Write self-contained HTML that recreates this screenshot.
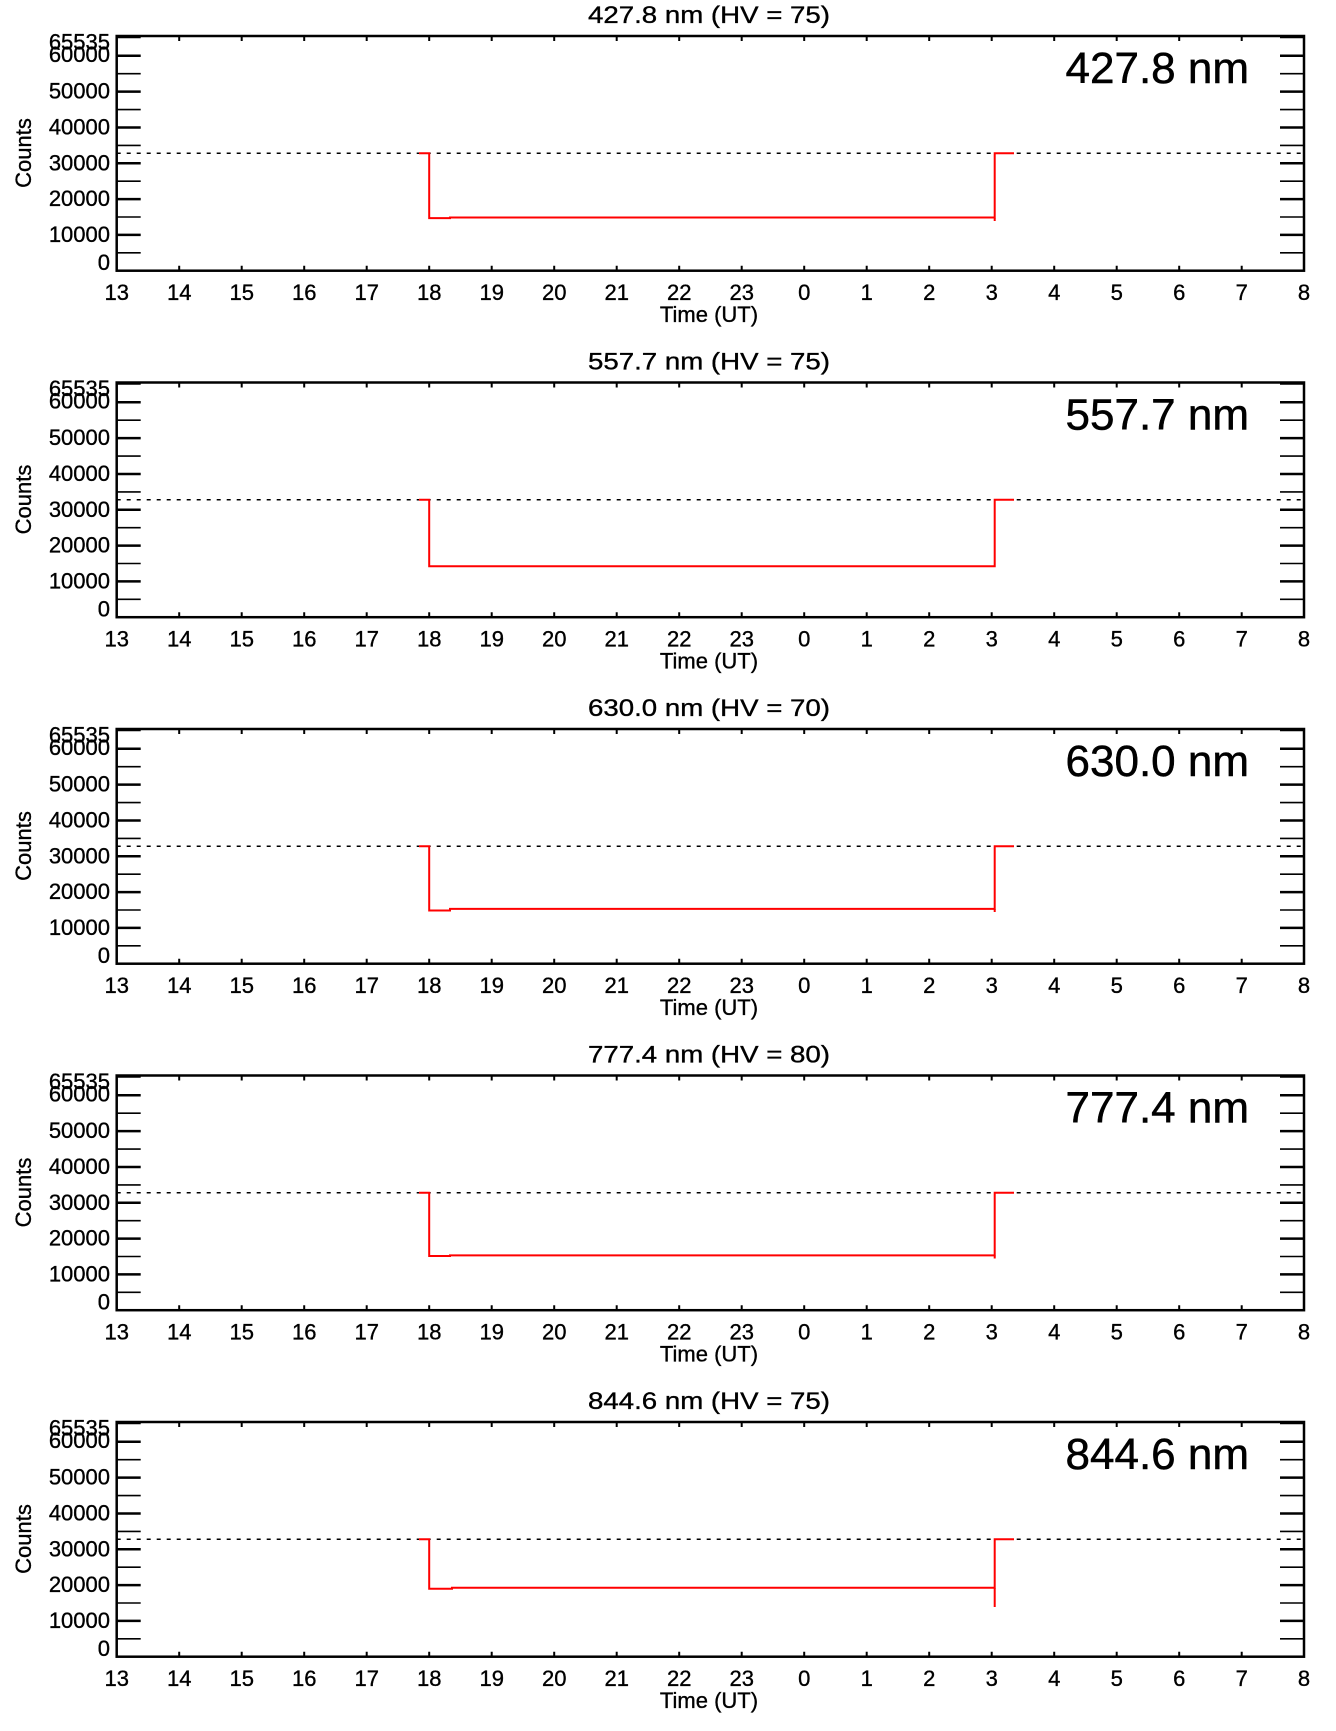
<!DOCTYPE html>
<html><head><meta charset="utf-8"><style>
html,body{margin:0;padding:0;background:#fff;}
svg{display:block;}
text{font-family:"Liberation Sans",Arial,sans-serif;fill:#000;stroke:#000;stroke-width:0.35;}
.t{font-size:22px;text-anchor:middle;}
.ti{font-size:24px;text-anchor:middle;}
.y{font-size:22px;text-anchor:end;}
.big{font-size:44px;text-anchor:end;stroke-width:0.5;}
</style></head><body>
<svg width="1336" height="1731" viewBox="0 0 1336 1731" xmlns="http://www.w3.org/2000/svg">
<defs>
<g id="ax">
<rect x="116.7" y="0" width="1187.3" height="234.7" fill="none" stroke="#000" stroke-width="2.5"/>
<path d="M116.7 216.8h24M116.7 181h24M116.7 145.2h24M116.7 109.4h24M116.7 73.6h24M116.7 37.7h24M1280 216.8h24M1280 181h24M1280 145.2h24M1280 109.4h24M1280 73.6h24M1280 37.7h24" stroke="#000" stroke-width="1.6"/>
<path d="M116.7 198.9h24M116.7 163.1h24M116.7 127.3h24M116.7 91.5h24M116.7 55.6h24M116.7 19.8h24M116.7 1h24M1280 198.9h24M1280 163.1h24M1280 127.3h24M1280 91.5h24M1280 55.6h24M1280 19.8h24M1280 1h24" stroke="#000" stroke-width="2.5"/>
<path d="M179.2 0v5M241.7 0v5M304.2 0v5M366.7 0v5M429.2 0v5M491.7 0v5M554.2 0v5M616.7 0v5M679.2 0v5M741.7 0v5M804.2 0v5M866.7 0v5M929.2 0v5M991.7 0v5M1054.2 0v5M1116.7 0v5M1179.2 0v5M1241.7 0v5M179.2 234.7v-5M241.7 234.7v-5M304.2 234.7v-5M366.7 234.7v-5M429.2 234.7v-5M491.7 234.7v-5M554.2 234.7v-5M616.7 234.7v-5M679.2 234.7v-5M741.7 234.7v-5M804.2 234.7v-5M866.7 234.7v-5M929.2 234.7v-5M991.7 234.7v-5M1054.2 234.7v-5M1116.7 234.7v-5M1179.2 234.7v-5M1241.7 234.7v-5" stroke="#000" stroke-width="2"/>
<line x1="116.7" y1="117.3" x2="1304" y2="117.3" stroke="#000" stroke-width="1.5" stroke-dasharray="4 6"/>
</g>
</defs>

<!-- Panel 1 -->
<g transform="translate(0,36)">
<use href="#ax"/>
<path d="M419 117.3H429.2V182.1H450V181.5H994.7V117.3H1014" fill="none" stroke="#f00" stroke-width="2"/>
<path d="M994.7 182V185" stroke="#f00" stroke-width="2"/>
<text x="709" y="-13" class="ti" textLength="242" lengthAdjust="spacingAndGlyphs">427.8 nm (HV = 75)</text>
<text x="1249" y="47" class="big">427.8 nm</text>
<text transform="translate(31,117) rotate(-90)" style="font-size:22px;text-anchor:middle">Counts</text>
<g class="y"><text x="110" y="13.5">65535</text><text x="110" y="26">60000</text><text x="110" y="62.6">50000</text><text x="110" y="98.5">40000</text><text x="110" y="134.3">30000</text><text x="110" y="170.1">20000</text><text x="110" y="205.9">10000</text><text x="110" y="234">0</text></g>
<g class="t"><text x="116.7" y="264">13</text><text x="179.2" y="264">14</text><text x="241.7" y="264">15</text><text x="304.2" y="264">16</text><text x="366.7" y="264">17</text><text x="429.2" y="264">18</text><text x="491.7" y="264">19</text><text x="554.2" y="264">20</text><text x="616.7" y="264">21</text><text x="679.2" y="264">22</text><text x="741.7" y="264">23</text><text x="804.2" y="264">0</text><text x="866.7" y="264">1</text><text x="929.2" y="264">2</text><text x="991.7" y="264">3</text><text x="1054.2" y="264">4</text><text x="1116.7" y="264">5</text><text x="1179.2" y="264">6</text><text x="1241.7" y="264">7</text><text x="1304" y="264">8</text><text x="709" y="286">Time (UT)</text></g>
</g>

<!-- Panel 2 -->
<g transform="translate(0,382.5)">
<use href="#ax"/>
<path d="M419 117.3H429.2V183.8H994.7V117.3H1014" fill="none" stroke="#f00" stroke-width="2"/>
<text x="709" y="-13" class="ti" textLength="242" lengthAdjust="spacingAndGlyphs">557.7 nm (HV = 75)</text>
<text x="1249" y="47" class="big">557.7 nm</text>
<text transform="translate(31,117) rotate(-90)" style="font-size:22px;text-anchor:middle">Counts</text>
<g class="y"><text x="110" y="13.5">65535</text><text x="110" y="26">60000</text><text x="110" y="62.6">50000</text><text x="110" y="98.5">40000</text><text x="110" y="134.3">30000</text><text x="110" y="170.1">20000</text><text x="110" y="205.9">10000</text><text x="110" y="234">0</text></g>
<g class="t"><text x="116.7" y="264">13</text><text x="179.2" y="264">14</text><text x="241.7" y="264">15</text><text x="304.2" y="264">16</text><text x="366.7" y="264">17</text><text x="429.2" y="264">18</text><text x="491.7" y="264">19</text><text x="554.2" y="264">20</text><text x="616.7" y="264">21</text><text x="679.2" y="264">22</text><text x="741.7" y="264">23</text><text x="804.2" y="264">0</text><text x="866.7" y="264">1</text><text x="929.2" y="264">2</text><text x="991.7" y="264">3</text><text x="1054.2" y="264">4</text><text x="1116.7" y="264">5</text><text x="1179.2" y="264">6</text><text x="1241.7" y="264">7</text><text x="1304" y="264">8</text><text x="709" y="286">Time (UT)</text></g>
</g>

<!-- Panel 3 -->
<g transform="translate(0,729)">
<use href="#ax"/>
<path d="M419 117.3H429.2V181.5H450V179.9H994.7V117.3H1014" fill="none" stroke="#f00" stroke-width="2"/>
<path d="M994.7 180V183" stroke="#f00" stroke-width="2"/>
<text x="709" y="-13" class="ti" textLength="242" lengthAdjust="spacingAndGlyphs">630.0 nm (HV = 70)</text>
<text x="1249" y="47" class="big">630.0 nm</text>
<text transform="translate(31,117) rotate(-90)" style="font-size:22px;text-anchor:middle">Counts</text>
<g class="y"><text x="110" y="13.5">65535</text><text x="110" y="26">60000</text><text x="110" y="62.6">50000</text><text x="110" y="98.5">40000</text><text x="110" y="134.3">30000</text><text x="110" y="170.1">20000</text><text x="110" y="205.9">10000</text><text x="110" y="234">0</text></g>
<g class="t"><text x="116.7" y="264">13</text><text x="179.2" y="264">14</text><text x="241.7" y="264">15</text><text x="304.2" y="264">16</text><text x="366.7" y="264">17</text><text x="429.2" y="264">18</text><text x="491.7" y="264">19</text><text x="554.2" y="264">20</text><text x="616.7" y="264">21</text><text x="679.2" y="264">22</text><text x="741.7" y="264">23</text><text x="804.2" y="264">0</text><text x="866.7" y="264">1</text><text x="929.2" y="264">2</text><text x="991.7" y="264">3</text><text x="1054.2" y="264">4</text><text x="1116.7" y="264">5</text><text x="1179.2" y="264">6</text><text x="1241.7" y="264">7</text><text x="1304" y="264">8</text><text x="709" y="286">Time (UT)</text></g>
</g>

<!-- Panel 4 -->
<g transform="translate(0,1075.5)">
<use href="#ax"/>
<path d="M419 117.3H429.2V180.5H450V179.9H994.7V117.3H1014" fill="none" stroke="#f00" stroke-width="2"/>
<path d="M994.7 180V183" stroke="#f00" stroke-width="2"/>
<text x="709" y="-13" class="ti" textLength="242" lengthAdjust="spacingAndGlyphs">777.4 nm (HV = 80)</text>
<text x="1249" y="47" class="big">777.4 nm</text>
<text transform="translate(31,117) rotate(-90)" style="font-size:22px;text-anchor:middle">Counts</text>
<g class="y"><text x="110" y="13.5">65535</text><text x="110" y="26">60000</text><text x="110" y="62.6">50000</text><text x="110" y="98.5">40000</text><text x="110" y="134.3">30000</text><text x="110" y="170.1">20000</text><text x="110" y="205.9">10000</text><text x="110" y="234">0</text></g>
<g class="t"><text x="116.7" y="264">13</text><text x="179.2" y="264">14</text><text x="241.7" y="264">15</text><text x="304.2" y="264">16</text><text x="366.7" y="264">17</text><text x="429.2" y="264">18</text><text x="491.7" y="264">19</text><text x="554.2" y="264">20</text><text x="616.7" y="264">21</text><text x="679.2" y="264">22</text><text x="741.7" y="264">23</text><text x="804.2" y="264">0</text><text x="866.7" y="264">1</text><text x="929.2" y="264">2</text><text x="991.7" y="264">3</text><text x="1054.2" y="264">4</text><text x="1116.7" y="264">5</text><text x="1179.2" y="264">6</text><text x="1241.7" y="264">7</text><text x="1304" y="264">8</text><text x="709" y="286">Time (UT)</text></g>
</g>

<!-- Panel 5 -->
<g transform="translate(0,1422)">
<use href="#ax"/>
<path d="M419 117.3H429.2V166.8H452V165.7H994.7V117.3H1014" fill="none" stroke="#f00" stroke-width="2"/>
<path d="M994.7 166V185" stroke="#f00" stroke-width="2"/>
<text x="709" y="-13" class="ti" textLength="242" lengthAdjust="spacingAndGlyphs">844.6 nm (HV = 75)</text>
<text x="1249" y="47" class="big">844.6 nm</text>
<text transform="translate(31,117) rotate(-90)" style="font-size:22px;text-anchor:middle">Counts</text>
<g class="y"><text x="110" y="13.5">65535</text><text x="110" y="26">60000</text><text x="110" y="62.6">50000</text><text x="110" y="98.5">40000</text><text x="110" y="134.3">30000</text><text x="110" y="170.1">20000</text><text x="110" y="205.9">10000</text><text x="110" y="234">0</text></g>
<g class="t"><text x="116.7" y="264">13</text><text x="179.2" y="264">14</text><text x="241.7" y="264">15</text><text x="304.2" y="264">16</text><text x="366.7" y="264">17</text><text x="429.2" y="264">18</text><text x="491.7" y="264">19</text><text x="554.2" y="264">20</text><text x="616.7" y="264">21</text><text x="679.2" y="264">22</text><text x="741.7" y="264">23</text><text x="804.2" y="264">0</text><text x="866.7" y="264">1</text><text x="929.2" y="264">2</text><text x="991.7" y="264">3</text><text x="1054.2" y="264">4</text><text x="1116.7" y="264">5</text><text x="1179.2" y="264">6</text><text x="1241.7" y="264">7</text><text x="1304" y="264">8</text><text x="709" y="286">Time (UT)</text></g>
</g>
</svg>
</body></html>
